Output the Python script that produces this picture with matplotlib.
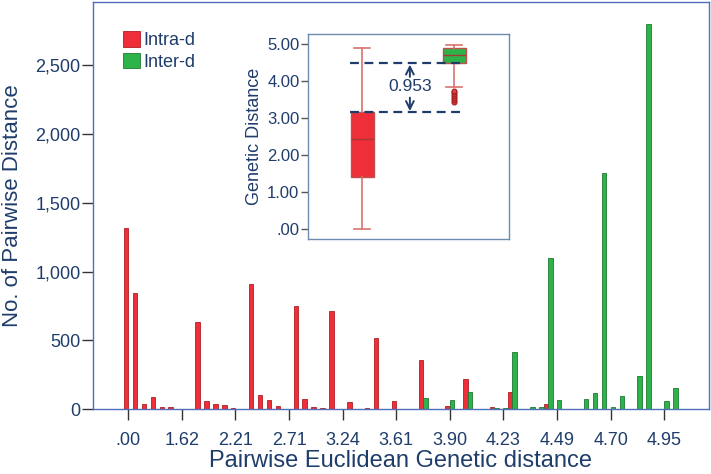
import numpy as np
import matplotlib
matplotlib.use('Agg')
import matplotlib.pyplot as plt
from matplotlib.patches import Patch
from matplotlib.ticker import FuncFormatter

plt.rcParams['font.family'] = ['Liberation Sans', 'DejaVu Sans']

# Histogram counts per bin (categorical bins, tick every 6th bin)
intra_counts = [1314, 842, 39, 87, 15, 19, 0, 0, 632, 63,
                41, 34, 12, 0, 908, 104, 65, 24, 0, 750,
                77, 19, 12, 717, 0, 51, 0, 9, 516, 0,
                60, 0, 0, 357, 3, 0, 27, 0, 223, 3,
                0, 14, 0, 122, 0, 3, 0, 40, 0, 0,
                0, 0, 5, 5, 0, 0, 0, 0, 0, 0,
                0, 0]
inter_counts = [0, 0, 0, 0, 0, 0, 0, 0, 0, 0,
                0, 0, 0, 0, 0, 0, 0, 0, 0, 0,
                0, 0, 0, 0, 0, 0, 0, 0, 4, 0,
                3, 5, 0, 85, 0, 3, 68, 5, 126, 0,
                0, 7, 10, 414, 0, 19, 19, 1100, 68, 0,
                0, 75, 120, 1714, 19, 94, 2, 244, 2798, 3,
                59, 152]
tick_labels = ['.00', '1.62', '2.21', '2.71', '3.24', '3.61',
               '3.90', '4.23', '4.49', '4.70', '4.95']

# Inset box plot summaries
intra_box = dict(whislo=0.0, q1=1.42, med=2.45, q3=3.16, whishi=4.90)
inter_box = dict(whislo=3.84, q1=4.49, med=4.70, q3=4.90, whishi=4.97)
inter_fliers = [3.45, 3.50, 3.55, 3.60, 3.65, 3.70, 3.75]
gap_value = 0.953

RED = '#EE2E38'
RED_EDGE = '#B01E24'
GREEN = '#2DB34A'
GREEN_EDGE = '#1E7A32'
NAVY = '#1F3D6B'
FRAME = '#4F6FB8'

fig = plt.figure(figsize=(7.11, 4.74), dpi=100)
ax = fig.add_axes([0.1308, 0.1365, 0.997 - 0.1308, 0.9958 - 0.1365])

idx = np.arange(len(intra_counts))
ax.bar(idx - 0.25, intra_counts, width=0.5, color=RED, edgecolor=RED_EDGE, linewidth=0.6)
ax.bar(idx + 0.25, inter_counts, width=0.5, color=GREEN, edgecolor=GREEN_EDGE, linewidth=0.6)

ax.set_xlim(-3.95, 65.0)
ax.set_ylim(0, 2958)
ax.set_xticks(np.arange(0, 61, 6))
ax.set_xticklabels(tick_labels)
ax.set_yticks([0, 500, 1000, 1500, 2000, 2500])
ax.yaxis.set_major_formatter(FuncFormatter(lambda v, p: f'{int(v):,}'))
ax.tick_params(axis='y', length=8, width=1, color='#333333', pad=1, labelsize=13, labelcolor=NAVY)
ax.tick_params(axis='x', length=8, width=1, color='#333333', pad=8, labelsize=13, labelcolor=NAVY)
for sp in ax.spines.values():
    sp.set_color(FRAME)
    sp.set_linewidth(1.0)

ax.set_xlabel('Pairwise Euclidean Genetic distance', fontsize=17, color=NAVY)
ax.xaxis.set_label_coords(0.5, -0.099)
ax.set_ylabel('No. of Pairwise Distance', fontsize=16, color=NAVY)
ax.yaxis.set_label_coords(-0.113, 0.5)

handles = [Patch(facecolor=RED, edgecolor=RED_EDGE, linewidth=0.6, label='Intra-d'),
           Patch(facecolor=GREEN, edgecolor=GREEN_EDGE, linewidth=0.6, label='Inter-d')]
leg = ax.legend(handles=handles, loc='upper left', bbox_to_anchor=(0.049, 0.928),
                frameon=False, fontsize=13, handlelength=0.95, handleheight=0.95,
                handletextpad=0.15, labelspacing=0.2, borderpad=0, borderaxespad=0)
for t in leg.get_texts():
    t.set_color(NAVY)

# Inset box plot
ins = fig.add_axes([0.4328, 0.4951, 0.2835, 0.4332])
stats = [dict(intra_box, fliers=[]), dict(inter_box, fliers=inter_fliers)]
ins.bxp(stats, positions=[1, 2], widths=0.25, capwidths=0.17, patch_artist=True,
        boxprops=dict(edgecolor='#C0504D', linewidth=1.0),
        medianprops=dict(color='#A33A36', linewidth=1.0),
        whiskerprops=dict(color='#D9736F', linewidth=1.2),
        capprops=dict(color='#D9736F', linewidth=1.2),
        flierprops=dict(marker='o', markersize=3.5, markerfacecolor='#E04040',
                        markeredgecolor='#A31E1E', markeredgewidth=0.8))
box_colors = [RED, GREEN]
for patch, c in zip(ins.patches, box_colors):
    patch.set_facecolor(c)

ins.hlines([intra_box['q3'], inter_box['q1']], 0.874, 2.12, colors=NAVY,
           linestyles=(0, (4, 2.5)), linewidth=1.6)
arrow_kw = dict(arrowstyle='->', color=NAVY, lw=1.4, mutation_scale=14,
                shrinkA=0, shrinkB=1)
ins.annotate('', xy=(1.52, inter_box['q1']), xytext=(1.52, 4.12), arrowprops=arrow_kw)
ins.annotate('', xy=(1.52, intra_box['q3']), xytext=(1.52, 3.56), arrowprops=arrow_kw)
ins.text(1.52, 3.85, f'{gap_value:.3f}', ha='center', va='center', fontsize=12.5, color=NAVY)

ins.set_xlim(0.41, 2.6)
ins.set_ylim(-0.27, 5.28)
ins.set_xticks([])
ins.set_yticks([0, 1, 2, 3, 4, 5])
ins.set_yticklabels(['.00', '1.00', '2.00', '3.00', '4.00', '5.00'])
ins.tick_params(axis='y', length=5, width=1, color='#555555', pad=1, labelsize=12, labelcolor=NAVY)
ins.set_ylabel('Genetic Distance', fontsize=13, color=NAVY, labelpad=3)
for sp in ins.spines.values():
    sp.set_color('#6F8AAE')
    sp.set_linewidth(1.0)

fig.savefig('out.png', dpi=100)
